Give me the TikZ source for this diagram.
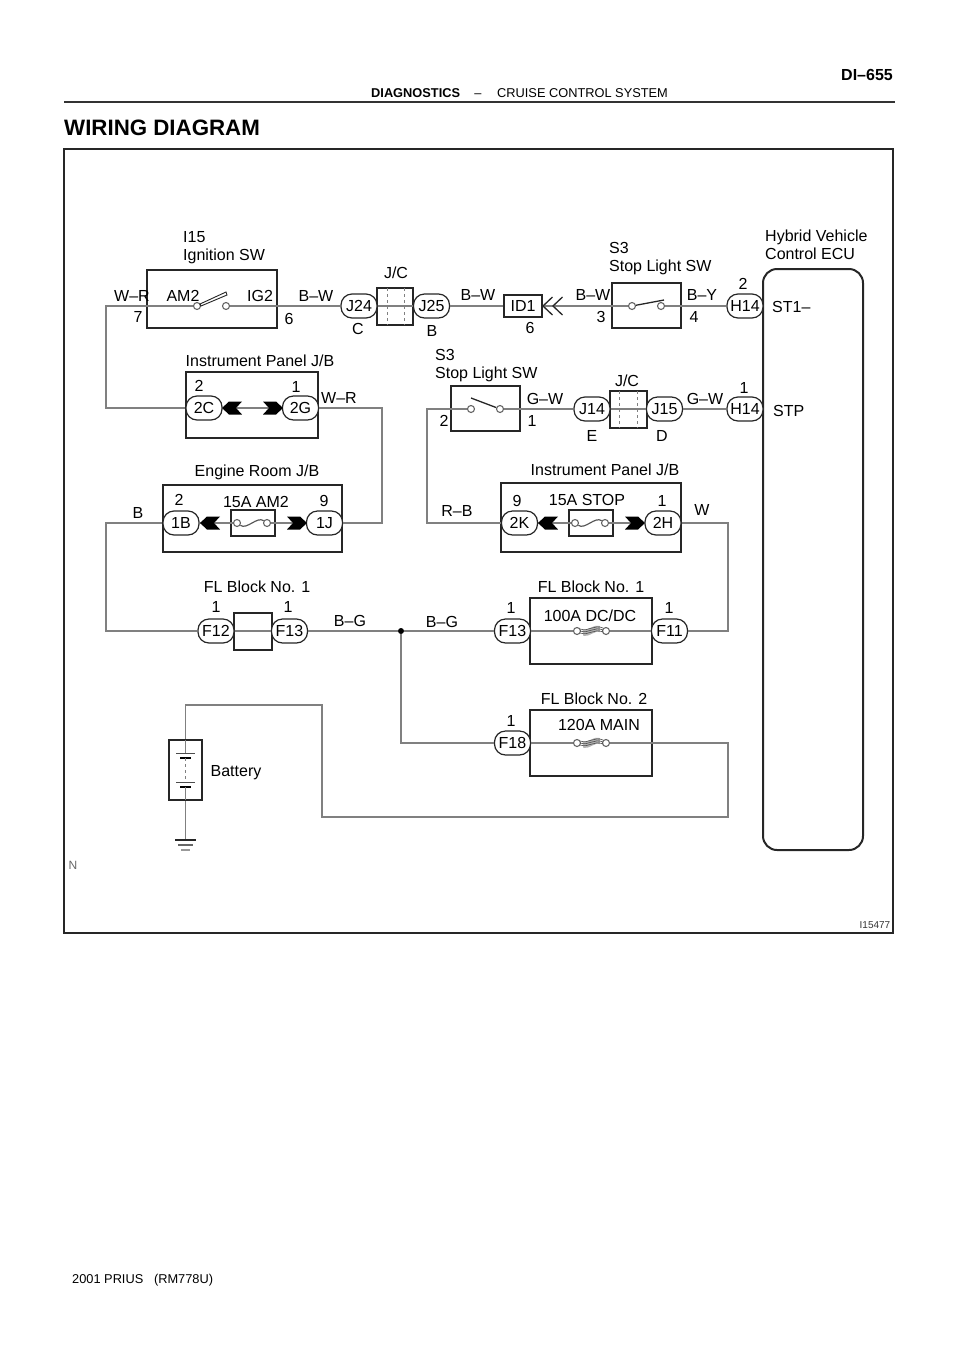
\documentclass[tikz,border=0pt]{standalone}
\usepackage{fontspec}
\setmainfont{Liberation Sans}
\tikzset{
 wire/.style={gray, line width=1.4pt},
 box/.style={draw=black!85, line width=1.5pt, inner sep=0},
 pin/.style={draw=black!85, fill=white, line width=1.2pt, minimum width=36pt, minimum height=24pt, rounded corners=11pt, inner sep=0, font=\fontsize{16}{18}\selectfont},
 contact/.style={circle, draw=black!60, fill=white, line width=1.1pt, minimum size=7pt, inner sep=0},
 lbl/.style={inner sep=0, font=\fontsize{16}{18}\selectfont},
 lbll/.style={lbl, anchor=west, align=left},
 hdr/.style={inner sep=0, font=\fontsize{12.8}{15}\selectfont},
 blade/.style={black!85, line width=1.3pt},
 chev/.pic={\fill[black] (0,0)--(7,-6.5)--(20,-6.5)--(14,0)--(20,6.5)--(7,6.5)--cycle;},
}
\begin{document}
\begin{tikzpicture}[x=1pt,y=-1pt]
\useasboundingbox (0,0) rectangle (960,1358);
\coordinate (hdL) at (64,102);
\coordinate (hdR) at (895,102);
\draw[black!80, line width=1.5pt] (hdL)--(hdR);
\node[hdr, font=\fontsize{16}{18}\selectfont\bfseries, anchor=east] (page) at (893,75) {DI–655};
\node[hdr, font=\fontsize{12.8}{15}\selectfont\bfseries, anchor=west] (diag) at (371,93) {DIAGNOSTICS};
\node[hdr] (dash) at (478,96) {–};
\node[hdr, anchor=west] (cruise) at (497,93) {CRUISE CONTROL SYSTEM};
\node[hdr, font=\fontsize{22.3}{25}\selectfont\bfseries, anchor=west] (title) at (64,128) {WIRING DIAGRAM};
\node[hdr, anchor=west] (model) at (72,1280) {2001 PRIUS\ \ \ (RM778U)};
\node[hdr, font=\fontsize{12}{14}\selectfont, text=black!60] (nmark) at (73,865) {N};
\node[hdr, font=\fontsize{10}{12}\selectfont, text=black!80] (fig) at (875,925) {I15477};
% boxes
\foreach \nm/\x/\y/\w/\h/\txt in {frame/478.5/541/829/784/, ign/212/299/130/58/, jcA/395/306.5/36/37/, id1/523/306/38/22/ID1,
 s3a/646.5/305.5/69/45/, pnlA/252/405/132/66/, s3b/485.5/408.5/69/45/, jcB/628.5/409.5/37/37/,
 erA/252.5/518.5/179/67/, pnlB/591/517.5/180/69/, flA/253/631.5/38/37/, flB/591/631/122/66/, flC/591/743/122/66/,
 fuseA/253/523/44/26/, fuseB/591/523/44/26/, bat/185.5/770/33/60/}
 \node[box, font=\fontsize{16}{18}\selectfont, minimum width=\w pt, minimum height=\h pt] (\nm) at (\x,\y) {\txt};
\node[box, line width=2pt, minimum width=100pt, minimum height=581pt, rounded corners=14pt] (ecu) at (813,559.5) {};
\foreach \x in {387,404}
 \draw[gray, dashed] (\x,288)--(\x,325);
\foreach \x in {619,637}
 \draw[gray, dashed] (\x,391)--(\x,428);
% pins and contacts
\foreach \nm/\x/\y/\txt in {J24/359/306/J24, J25/431.5/306/J25, H14a/745/306/H14, 2C/204/408/2C, 2G/300.5/408/2G,
 1B/181/523/1B, 1J/324.5/523/1J, J14/592/409/J14, J15/664.5/409/J15, H14b/745/409/H14, 2K/519.5/523/2K, 2H/663/523/2H,
 F12/216/631/F12, F13a/289.5/631/F13, F13b/512.5/631/F13, F11/669.5/631/F11, F18/512.5/743/F18}
 \node[pin] (\nm) at (\x,\y) {\txt};
\foreach \nm/\x/\y in {am2/197/306, ig2/226/306, s3i/632/306, s3o/661/306, s4i/471/409, s4o/500/409,
 fa1/237/523, fa2/267/523, fb1/575/523, fb2/605/523, dc1/577/631, dc2/606/631, mn1/577/743, mn2/606/743}
 \node[contact] (\nm) at (\x,\y) {};
\node[circle, fill=black, minimum size=6pt, inner sep=0] (dot) at (401,631) {};
\coordinate (cnA) at (106,408);
\coordinate (cnB) at (382,523);
\coordinate (cnC) at (106,631);
\coordinate (cnD) at (728,523);
\coordinate (cnE) at (427,409);
\coordinate (cnF) at (728,817);
\coordinate (cnG) at (322,705);
\coordinate (gnd) at (185.5,840);
% wires
\draw[wire] (am2) -| (cnA) -- (2C);
\draw[wire] (ig2)--(J24);
\draw[wire] (J24)--(J25);
\draw[wire] (J25)--(id1);
\draw[wire] (id1)--(s3i);
\draw[wire] (s3o)--(H14a);
\draw[wire] (2C)--(2G);
\draw[wire] (2G) -| (cnB) -- (1J);
\draw[wire] (1B)--(fa1);
\draw[wire] (fa2)--(1J);
\draw[wire] (1B) -| (cnC) -- (F12);
\draw[wire] (F12)--(F13a);
\draw[wire] (F13a)--(dot);
\draw[wire] (dot)--(F13b);
\draw[wire] (dot) |- (F18);
\draw[wire] (F13b)--(dc1);
\draw[wire] (dc2)--(F11);
\draw[wire] (F11) -| (cnD) -- (2H);
\draw[wire] (2K)--(fb1);
\draw[wire] (fb2)--(2H);
\draw[wire] (2K) -| (cnE) -- (s4i);
\draw[wire] (s4o)--(J14);
\draw[wire] (J14)--(J15);
\draw[wire] (J15)--(H14b);
\draw[wire] (F18)--(mn1);
\draw[wire] (mn2) -| (cnF) -| (cnG) -| (bat.north);
\draw[wire] (bat.south)--(gnd);
% chevrons
\foreach \x/\y in {222/408, 538/523, 200/523}
 \pic at (\x,\y) {chev};
\foreach \x/\y in {283/408, 307/523, 645/523}
 \pic[xscale=-1] at (\x,\y) {chev};
\foreach \x in {543,553}
 \draw[blade] (\x+9.5,297)--(\x,306)--(\x+9.5,315);
% switches
\filldraw[black!85, fill=white, line width=.9pt] (200,304)--(226,292)--(227,295)--(201,306)--cycle;
\draw[blade] (s3i)--(664,300);
\draw[blade] (471,398)--(s4o);
% fuses
\draw[gray!70!black, line width=1.2pt] (fa1) .. controls (247,530) and (257,516) .. (fa2);
\draw[gray!70!black, line width=1.2pt] (fb1) .. controls (585,530) and (595,516) .. (fb2);
\foreach \y in {631,743} {
 \draw[gray!60, line width=6pt] (583,\y+2) .. controls (589,\y+3) and (594,\y-4) .. (600,\y-2);
 \foreach \d in {-2,0,2}
  \draw[black!70, line width=.6pt] (580,\y+\d) .. controls (589,\y+3+\d) and (594,\y-5+\d) .. (603,\y-1+\d);
}
% battery
\foreach \y in {753,782} {
 \draw[black!70, line width=1pt] (176,\y)--(195,\y);
 \draw[black, line width=2pt] (180,\y+5)--(191,\y+5);
}
\draw[gray, line width=1.2pt] (185.5,740)--(185.5,753);
\draw[gray, line width=1.2pt] (185.5,787)--(185.5,800);
\draw[gray, dashed] (185.5,758)--(185.5,782);
\draw[black!85, line width=1.5pt] (175,840)--(196,840);
\draw[black!60, line width=1.2pt] (178,845)--(193,845);
\draw[black!40, line width=1.2pt] (181,850)--(190,850);
% labels
\node[lbll] (ignT) at (183,248) {I15\\Ignition SW};
\node[lbll] (s3aT) at (609,259) {S3\\Stop Light SW};
\node[lbll] (s3bT) at (435,366) {S3\\Stop Light SW};
\node[lbll] (ecuT) at (765,245) {Hybrid Vehicle\\Control ECU};
\node[lbll] (st1T) at (772,307) {ST1–};
\node[lbll] (stpT) at (773,411) {STP};
\foreach \nm/\x/\y/\txt in {wr1/132/296/W–R, am2T/183/296/AM2, ig2T/260/296/IG2, p7/138/317/7, p6/289/319/6, bw1/316/296/B–W,
 jcAT/396/273/J\slash C, cT/358/329/C, bT/432/331/B, bw2/478/295/B–W, p6b/530/328/6, bw3/593/295/B–W, p3/601/317/3,
 by/702/295/B–Y, p4/694/317/4, p2h/743/284/2, gw1/545/399/G–W, p2s/444/421/2, p1s/532/421/1, jcBT/627/381/J\slash C,
 eT/592/436/E, dT/662/436/D, gw2/705/399/G–W, p1h/744/388/1, pnlBT/605/470/Instrument Panel J\slash B, p9k/517/501/9,
 stopT/587/500/15A STOP, p1st/662/501/1, rb/457/511/R–B, wT/702/510/W, pnlAT/260/361/Instrument Panel J\slash B,
 p2c/199/386/2, p1g/296/387/1, wr2/339/398/W–R, erT/257/472/Engine Room J\slash B, p2b/179/500/2, am2F/256/502/15A AM2,
 p9j/324/501/9, bL/138/513/B, flAT/257/587/FL Block No. 1, p1a/216/607/1, p1b/288/607/1, bg1/350/621/B–G, bg2/442/622/B–G,
 flBT/591/587/FL Block No. 1, p1c/511/608/1, p1d/669/608/1, dcT/590/616/100A DC\slash DC, flCT/594/699/FL Block No. 2,
 p1e/511/721/1, mainT/599/725/120A MAIN, batT/236/773/Battery}
 \node[lbl] (\nm) at (\x,\y) {\txt};
\end{tikzpicture}
\end{document}
